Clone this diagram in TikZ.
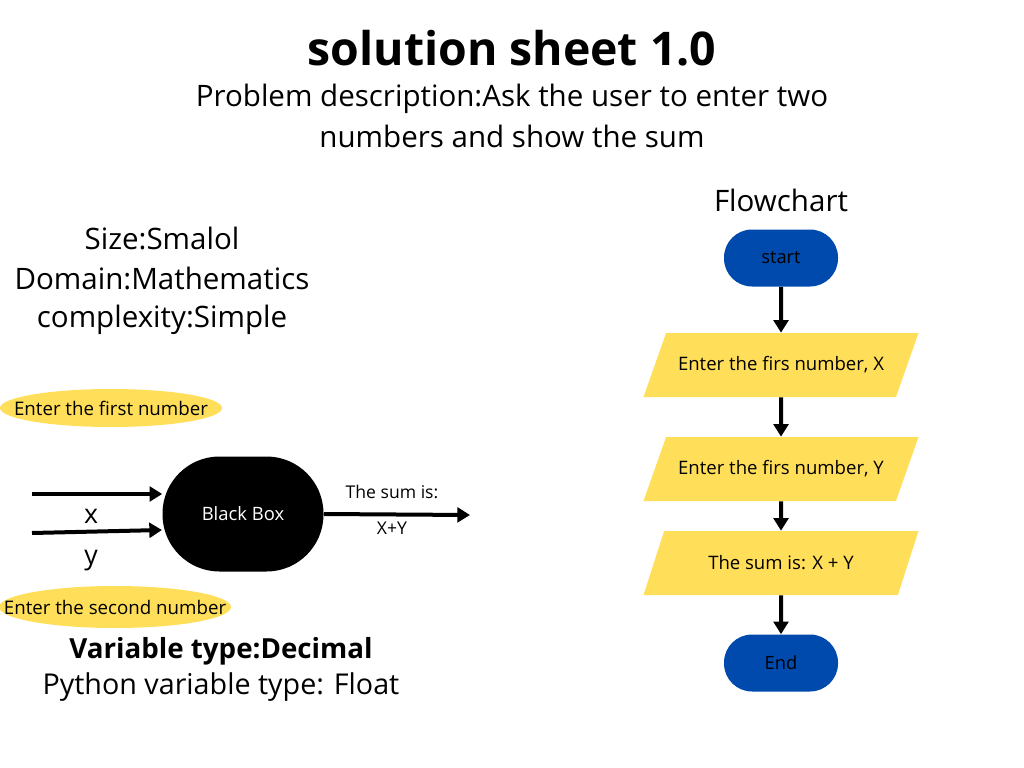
\documentclass[tikz,border=0pt]{standalone}
\usepackage{fontspec}
\setmainfont{Open Sans}
\usetikzlibrary{shapes.geometric,arrows.meta,positioning}
\definecolor{boxyellow}{HTML}{FFDE59}
\definecolor{boxblue}{HTML}{004AAD}
\newlength\pu
\setlength\pu{0.025cm}
\newcommand\fs[1]{\fontsize{#1}{1.2\dimexpr#1pt\relax}\selectfont}

\begin{document}
\begin{tikzpicture}[x=\pu,y=-\pu,
    flowarrow/.style={-{Triangle[length=9pt,width=10.5pt]}, line width=4\pu},
    terminal/.style={fill=boxblue, rounded corners=28\pu, minimum width=114\pu, minimum height=57\pu, font=\fs{13}},
    iobox/.style={trapezium, trapezium left angle=49, trapezium right angle=131, trapezium stretches body,
        fill=boxyellow, minimum width=275\pu, minimum height=64\pu, inner xsep=0pt, font=\fs{13.2}},
    inputnote/.style={ellipse, fill=boxyellow, inner sep=0pt, label={[font=\fs{13.3}]center:#1}},
    plaintext/.style={font=\fs{21}, inner sep=0pt}]
\useasboundingbox (0,0) rectangle (1024,768);

% heading
\node[font=\bfseries\fs{33}, inner sep=0pt] (title) at (512,48) {solution sheet 1.0};
\node[font=\fs{21}, inner sep=0pt, align=center] (problem) at (512,116)
    {Problem description:Ask the user to enter two\\[4pt] numbers and show the sum};

% black box side
\node[plaintext] (size) at (162,238) {Size:Smalol};
\node[plaintext] (domain) at (162,278) {Domain:Mathematics};
\node[plaintext] (complexity) at (162,320) {complexity:Simple};

\node[inputnote={Enter the first number}, minimum width=222\pu, minimum height=38\pu] (first) at (111,408) {};
\node[inputnote={Enter the second number}, minimum width=232\pu, minimum height=42\pu] (second) at (115,607) {};

\node[fill=black, text=white, rounded corners=57\pu, minimum width=161\pu, minimum height=115\pu, font=\fs{13.1}]
    (bbox) at (243,514) {Black Box};

\coordinate (xin) at (32,494);
\coordinate (yin) at (32,533);
\coordinate (yend) at (162,530);
\coordinate (out) at (470,515);
\draw[flowarrow] (xin) -- (xin -| bbox.west);
\draw[flowarrow] (yin) -- (yend);
\draw[flowarrow] (bbox.east) -- (out);
\node[font=\fs{19}] (xlabel) at (91,516) {x};
\node[font=\fs{19}] (ylabel) at (91,561) {y};
\node[font=\fs{12.5}] (sumlabel) at (392,492) {The sum is:};
\node[font=\fs{12.5}] (xylabel) at (392,528) {X+Y};

\node[font=\bfseries\fs{19.7}, inner sep=0pt] (vartype) at (221,651) {Variable type:Decimal};
\node[font=\fs{20.4}, inner sep=0pt] (pytype) at (221,687) {Python variable type: Float};

% flowchart
\node[font=\fs{21}, inner sep=0pt] (flowtitle) at (781,200) {Flowchart};
\node[terminal] (start) at (781,258) {start};
\node[iobox] (readx) at (781,365) {Enter the firs number, X};
\node[iobox] (ready) at (781,469) {Enter the firs number, Y};
\node[iobox] (show) at (781,563) {The sum is: X + Y};
\node[terminal] (end) at (781,663) {End};

\draw[flowarrow] (start) -- (readx);
\draw[flowarrow] (readx) -- (ready);
\draw[flowarrow] (ready) -- (show);
\draw[flowarrow] (show) -- (end);
\end{tikzpicture}
\end{document}
